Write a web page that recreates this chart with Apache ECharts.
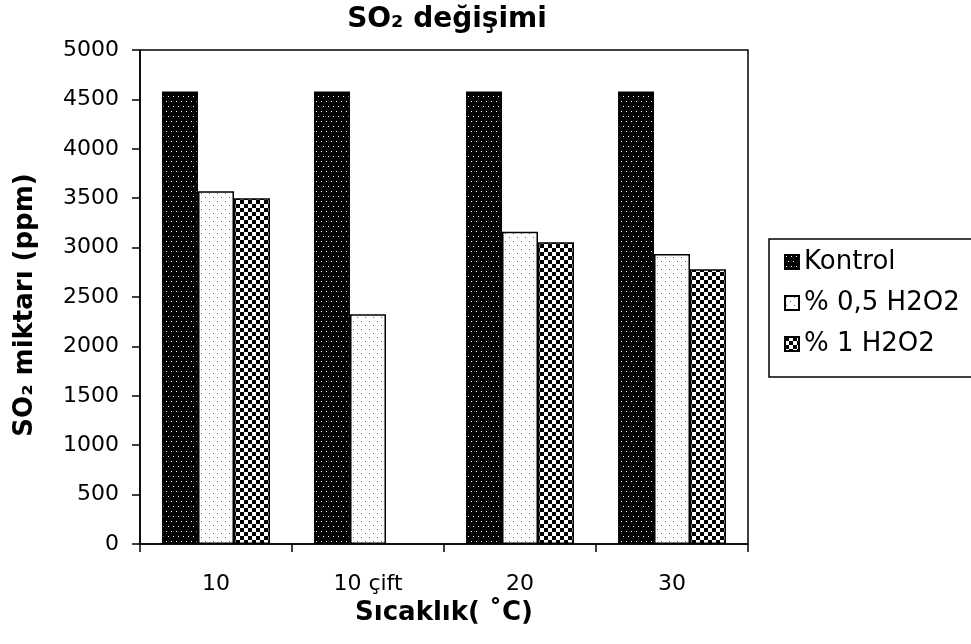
<!DOCTYPE html>
<html>
<head>
<meta charset="utf-8">
<script src="https://cdn.jsdelivr.net/npm/echarts@6/dist/echarts.min.js"></script>
<style>html,body{margin:0;padding:0;background:#fff;}#c{width:971px;height:644px;}</style>
</head>
<body>
<div id="c"></div>
<script>
const categories = ['10', '10 çift', '20', '30'];
const seriesNames = ['Kontrol', '% 0,5 H2O2', '% 1 H2O2'];
const kontrol = [4580, 4580, 4580, 4580];
const h2o2_05 = [3570, 2325, 3160, 2935];
const h2o2_1 = [3500, null, 3055, 2780];
const yTicks = [0, 500, 1000, 1500, 2000, 2500, 3000, 3500, 4000, 4500, 5000];

function makePattern(type) {
  const c = document.createElement('canvas');
  const ctx = c.getContext('2d');
  if (type === 'dark') {
    c.width = 10; c.height = 10;
    ctx.fillStyle = '#000'; ctx.fillRect(0, 0, 10, 10);
    ctx.fillStyle = '#fff';
    ctx.fillRect(1, 1, 1, 1); ctx.fillRect(6, 1, 1, 1);
    ctx.fillRect(3, 6, 1, 1); ctx.fillRect(8, 6, 1, 1);
  } else if (type === 'light') {
    c.width = 8; c.height = 8;
    ctx.fillStyle = '#fff'; ctx.fillRect(0, 0, 8, 8);
    ctx.fillStyle = '#666';
    ctx.fillRect(1, 1, 1, 1); ctx.fillRect(5, 5, 1, 1);
  } else {
    c.width = 8; c.height = 8;
    ctx.fillStyle = '#fff'; ctx.fillRect(0, 0, 8, 8);
    ctx.fillStyle = '#000';
    ctx.fillRect(0, 0, 4, 4); ctx.fillRect(4, 4, 4, 4);
  }
  return { image: c, repeat: 'repeat' };
}

const patterns = [makePattern('dark'), makePattern('light'), makePattern('check')];
const dataSets = [kontrol, h2o2_05, h2o2_1];
const FONT = 'DejaVu Sans';

const chart = echarts.init(document.getElementById('c'), null, { renderer: 'canvas' });
chart.setOption({
  backgroundColor: '#fff',
  animation: false,
  title: {
    text: 'SO₂ değişimi',
    left: 442, top: 1, textAlign: 'center',
    textStyle: { fontFamily: FONT, fontWeight: 'bold', fontSize: 28, color: '#000' }
  },
  grid: { left: 140, right: 223, top: 50, bottom: 100, show: true, borderColor: '#000', borderWidth: 1.5, backgroundColor: '#fff' },
  legend: {
    orient: 'vertical',
    left: 769, top: 239,
    data: seriesNames,
    itemWidth: 14, itemHeight: 14, itemGap: 15,
    padding: [10, 60, 20, 15],
    borderColor: '#000', borderWidth: 1.5,
    textStyle: { fontFamily: FONT, fontSize: 26, color: '#000', lineHeight: 26 },
    icon: 'rect'
  },
  xAxis: {
    type: 'category',
    data: categories,
    name: 'Sıcaklık( ˚C)',
    nameLocation: 'middle', nameGap: 55,
    nameTextStyle: { fontFamily: FONT, fontWeight: 'bold', fontSize: 26, color: '#000', verticalAlign: 'top' },
    axisLine: { lineStyle: { color: '#000', width: 1.5 } },
    axisTick: { show: true, length: 8, lineStyle: { color: '#000', width: 1.5 } },
    axisLabel: { fontFamily: FONT, fontSize: 22, color: '#000', margin: 29 }
  },
  yAxis: {
    type: 'value',
    min: 0, max: 5000, interval: 500,
    name: 'SO₂ miktarı (ppm)',
    nameLocation: 'middle', nameGap: 102,
    nameTextStyle: { fontFamily: FONT, fontWeight: 'bold', fontSize: 26, color: '#000', padding: [0, 16, 0, 0] },
    axisLine: { show: true, lineStyle: { color: '#000', width: 1.5 } },
    axisTick: { show: true, length: 8, lineStyle: { color: '#000', width: 1.5 } },
    splitLine: { show: false },
    axisLabel: {
      fontFamily: FONT, fontSize: 22, color: '#000', margin: 21,
      formatter: v => (yTicks.indexOf(v) >= 0 ? String(v) : '')
    }
  },
  series: dataSets.map((d, i) => ({
    name: seriesNames[i],
    type: 'bar',
    data: d,
    barGap: '0%',
    barCategoryGap: '29%',
    itemStyle: { color: patterns[i], borderColor: '#000', borderWidth: 1.5 }
  }))
});
</script>
</body>
</html>
